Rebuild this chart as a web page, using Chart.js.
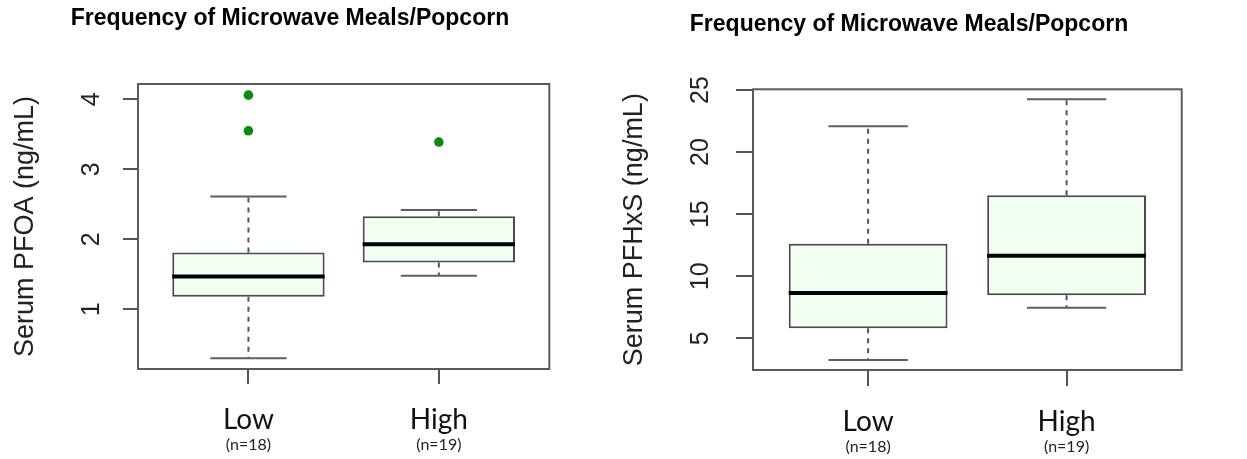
<!DOCTYPE html>
<html><head><meta charset="utf-8">
<script src="https://cdn.jsdelivr.net/npm/chart.js@4.4.1/dist/chart.umd.min.js"></script>
<style>
html,body{margin:0;padding:0;background:#fff;}
#wrap{position:relative;width:1247px;height:459px;overflow:hidden;background:#fff;}
.panel{position:absolute;top:0;height:459px;}
canvas{display:block;}
</style></head><body>
<div id="wrap">
<div class="panel" style="left:0;width:615px"><canvas id="c1" width="615" height="459"></canvas></div>
<div class="panel" style="left:615px;width:632px"><canvas id="c2" width="632" height="459"></canvas></div>
</div>
<script>
// ---- data ----
const categories = ['Low', 'High'];
const sampleSizes = ['(n=18)', '(n=19)'];
const chartTitle = 'Frequency of Microwave Meals/Popcorn';

const pfoaLabel = 'Serum PFOA (ng/mL)';
const pfoaTicks = [1, 2, 3, 4];
const pfoaLower = [0.30, 1.48];
const pfoaQ1 = [1.18, 1.67];
const pfoaMedian = [1.47, 1.93];
const pfoaQ3 = [1.81, 2.33];
const pfoaUpper = [2.61, 2.42];
const pfoaOutliers = [[4.06, 3.55], [3.39]];
const pfoaRange = [0.147, 4.219];

const pfhxsLabel = 'Serum PFHxS (ng/mL)';
const pfhxsTicks = [5, 10, 15, 20, 25];
const pfhxsLower = [3.25, 7.46];
const pfhxsQ1 = [5.81, 8.46];
const pfhxsMedian = [8.65, 11.65];
const pfhxsQ3 = [12.62, 16.52];
const pfhxsUpper = [22.08, 24.25];
const pfhxsOutliers = [[], []];
const pfhxsRange = [2.447, 25.056];

const BOX_HALF = 0.4;
const CAP_HALF = 0.2;

const framePlugin = {
  id: 'frame',
  afterDatasetsDraw(chart) {
    const { ctx, chartArea: a } = chart;
    ctx.save();
    ctx.strokeStyle = '#5a5a5a';
    ctx.lineWidth = 2;
    ctx.strokeRect(a.left, a.top, a.right - a.left, a.bottom - a.top);
    ctx.restore();
  }
};

const subLabelPlugin = {
  id: 'subLabels',
  afterDraw(chart, args, opts) {
    const { ctx, chartArea: a } = chart;
    const xs = chart.scales.x;
    ctx.save();
    ctx.font = '16px Lato, "Open Sans", sans-serif';
    ctx.fillStyle = '#222';
    ctx.textAlign = 'center';
    ctx.textBaseline = 'middle';
    sampleSizes.forEach((t, i) => {
      ctx.fillText(t, xs.getPixelForValue(i + 1), a.bottom + opts.offset);
    });
    ctx.restore();
  }
};

function gap(i) { return { x: i + 1, y: null }; }

function buildChart(id, s, L) {
  const outlierPts = s.outliers.flatMap((arr, i) => arr.map(v => ({ x: i + 1, y: v })));
  const medianPts = categories.flatMap((c, i) => [
    { x: i + 1 - BOX_HALF, y: s.median[i] }, { x: i + 1 + BOX_HALF, y: s.median[i] }, gap(i)]);
  const capPts = categories.flatMap((c, i) => [
    { x: i + 1 - CAP_HALF, y: s.upper[i] }, { x: i + 1 + CAP_HALF, y: s.upper[i] }, gap(i),
    { x: i + 1 - CAP_HALF, y: s.lower[i] }, { x: i + 1 + CAP_HALF, y: s.lower[i] }, gap(i)]);
  const whiskerPts = categories.flatMap((c, i) => [
    { x: i + 1, y: s.q3[i] }, { x: i + 1, y: s.upper[i] }, gap(i),
    { x: i + 1, y: s.q1[i] }, { x: i + 1, y: s.lower[i] }, gap(i)]);
  const boxPts = categories.map((c, i) => ({ x: i + 1, y: [s.q1[i], s.q3[i]] }));

  return new Chart(document.getElementById(id), {
    type: 'bar',
    data: {
      datasets: [
        { type: 'scatter', data: outlierPts, pointRadius: 4.8, pointBackgroundColor: '#0b8a12', pointBorderWidth: 0, showLine: false },
        { type: 'line', data: medianPts, borderColor: '#000', borderWidth: 4, pointRadius: 0, spanGaps: false, borderCapStyle: 'butt' },
        { type: 'line', data: capPts, borderColor: '#5f5f5f', borderWidth: 2, pointRadius: 0, spanGaps: false },
        { type: 'line', data: whiskerPts, borderColor: '#555', borderWidth: 2, borderDash: [5, 5], pointRadius: 0, spanGaps: false },
        { type: 'bar', data: boxPts, backgroundColor: '#F0FFF0', borderColor: '#4a4a4a', borderWidth: 2, borderSkipped: false, barPercentage: 0.8, categoryPercentage: 1 }
      ]
    },
    plugins: [framePlugin, subLabelPlugin],
    options: {
      responsive: false,
      animation: false,
      devicePixelRatio: 1,
      layout: { padding: { left: L.padL, right: L.padR, top: 0, bottom: 0 } },
      plugins: {
        legend: { display: false },
        tooltip: { enabled: false },
        title: {
          display: true, text: chartTitle, color: '#000', align: 'center',
          font: { family: '"Liberation Sans", Arial, sans-serif', weight: 'bold', size: 23, lineHeight: 1.2 },
          padding: { top: L.titleTop, bottom: L.titleBottom }
        },
        subLabels: { offset: L.subOffset }
      },
      scales: {
        x: {
          type: 'linear', min: 0.42, max: 2.58, offset: false,
          afterBuildTicks: sc => { sc.ticks = categories.map((c, i) => ({ value: i + 1 })); },
          afterFit: sc => { sc.height = L.xAxisH; },
          grid: { display: true, drawOnChartArea: false, drawTicks: true, tickLength: L.xTick, color: '#555', lineWidth: 2, offset: false },
          border: { display: false },
          ticks: {
            autoSkip: false, minRotation: 0, maxRotation: 0, padding: L.xPad, color: '#111',
            font: { family: 'Lato, "Open Sans", sans-serif', size: 28 },
            callback: v => categories[Math.round(v) - 1]
          }
        },
        y: {
          type: 'linear', min: s.range[0], max: s.range[1],
          afterBuildTicks: sc => { sc.ticks = s.ticks.map(v => ({ value: v })); },
          afterFit: sc => { sc.width = L.yAxisW; },
          grid: { display: true, drawOnChartArea: false, drawTicks: true, tickLength: L.yTick, color: '#555', lineWidth: 2 },
          border: { display: false },
          ticks: {
            minRotation: 90, maxRotation: 90, crossAlign: 'center', padding: L.yPad, color: '#222',
            font: { family: '"Liberation Sans", Arial, sans-serif', size: 25 }
          },
          title: {
            display: true, text: s.label, color: '#222',
            font: { family: '"Liberation Sans", Arial, sans-serif', size: 27, lineHeight: 1 },
            padding: { top: L.yTitlePad, bottom: 0 }
          }
        }
      }
    }
  });
}

buildChart('c1', {
  label: pfoaLabel, ticks: pfoaTicks, lower: pfoaLower, q1: pfoaQ1, median: pfoaMedian,
  q3: pfoaQ3, upper: pfoaUpper, outliers: pfoaOutliers, range: pfoaRange
}, {
  padL: 30.7, padR: 65.7, titleTop: 5, titleBottom: 51.4, yAxisW: 107.3, yTick: 15, yPad: 24,
  yTitlePad: -18.9, xAxisH: 90, xTick: 15, xPad: 19, subOffset: 76
});

buildChart('c2', {
  label: pfhxsLabel, ticks: pfhxsTicks, lower: pfhxsLower, q1: pfhxsQ1, median: pfhxsMedian,
  q3: pfhxsQ3, upper: pfhxsUpper, outliers: pfhxsOutliers, range: pfhxsRange
}, {
  padL: 21.3, padR: 65.3, titleTop: 10.4, titleBottom: 51.3, yAxisW: 116.7, yTick: 17, yPad: 21.4,
  yTitlePad: -15, xAxisH: 89, xTick: 16, xPad: 19, subOffset: 77
});
</script>
</body></html>
